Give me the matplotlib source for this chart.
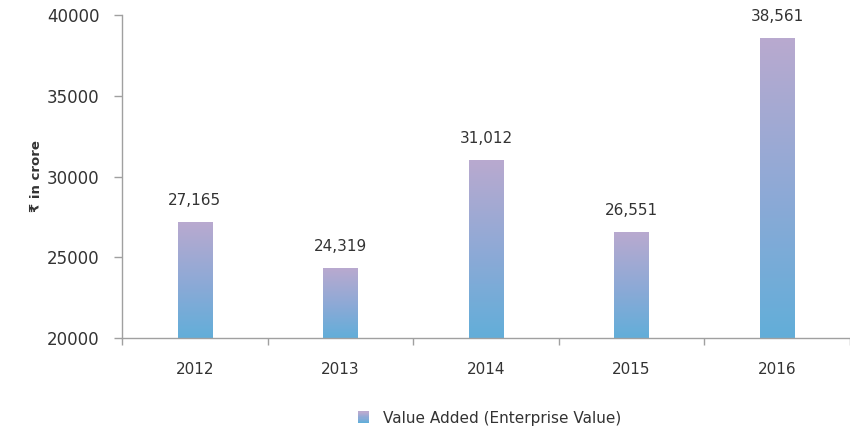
import numpy as np
import matplotlib
matplotlib.use("Agg")
import matplotlib.pyplot as plt
from matplotlib.colors import LinearSegmentedColormap
from matplotlib.patches import Rectangle
from matplotlib.legend_handler import HandlerBase

plt.rcParams['font.family'] = ['DejaVu Sans']

years = ['2012', '2013', '2014', '2015', '2016']
values = [27165, 24319, 31012, 26551, 38561]
labels = ['27,165', '24,319', '31,012', '26,551', '38,561']

ymin, ymax = 20000, 40000
bar_w = 0.235
grey = '#a0a0a0'
txt = '#333333'

cmap = LinearSegmentedColormap.from_list('grad', ['#62aed9', '#8fa9d6', '#b9aacf'])
grad = np.linspace(0, 1, 256).reshape(-1, 1)

fig = plt.figure(figsize=(8.5, 4.32), dpi=100)
ax = fig.add_axes([0.1435, 0.2176, 0.8565, 0.7476])

x = np.arange(len(years))
bars = ax.bar(x, np.array(values) - ymin, bar_w, bottom=ymin, color='none', edgecolor='none')
for b, v, lab in zip(bars, values, labels):
    x0 = b.get_x()
    im = ax.imshow(grad, cmap=cmap, origin='lower', aspect='auto',
                   extent=[x0, x0 + bar_w, ymin, v], zorder=2)
    im.set_clip_path(b)
    ax.annotate(lab, (b.get_x() + bar_w / 2, v), xytext=(0, 10), textcoords='offset points',
                ha='center', va='bottom', fontsize=11, color=txt)

ax.set_xlim(-0.5, 4.46)
ax.set_ylim(ymin, ymax)
ax.set_yticks([20000, 25000, 30000, 35000, 40000])
ax.set_xticks(x)
ax.set_xticklabels(years)
ax.set_xticks(np.arange(-0.5, 4.6, 1.0), minor=True)
ax.tick_params(axis='x', which='major', length=0, pad=17, labelsize=11, labelcolor=txt)
ax.tick_params(axis='x', which='minor', length=5, color=grey, width=1)
ax.tick_params(axis='y', length=6, color=grey, width=1, labelsize=12, labelcolor=txt, pad=10)

for s in ['top', 'right']:
    ax.spines[s].set_visible(False)
for s in ['left', 'bottom']:
    ax.spines[s].set_color(grey)
    ax.spines[s].set_linewidth(1)

ax.set_ylabel('₹ in crore', fontsize=9.5, fontweight='bold', color=txt, labelpad=3)


class GradHandler(HandlerBase):
    def create_artists(self, legend, orig, xd, yd, w, h, fs, trans):
        arts = []
        n = 10
        size = h * 1.1
        x0 = xd + (w - size) / 2
        y0 = yd + (h - size) / 2
        for i in range(n):
            r = Rectangle((x0, y0 + size * i / n), size, size / n + 0.3,
                          facecolor=cmap(i / (n - 1)), edgecolor='none', transform=trans)
            arts.append(r)
        return arts


handle = Rectangle((0, 0), 1, 1)
fig.legend([handle], ['Value Added (Enterprise Value)'], handler_map={Rectangle: GradHandler()},
           loc='center', bbox_to_anchor=(0.575, 0.032), frameon=False, fontsize=11,
           handlelength=1.0, handletextpad=0.8, labelcolor=txt)

fig.savefig('out.png', dpi=100)
